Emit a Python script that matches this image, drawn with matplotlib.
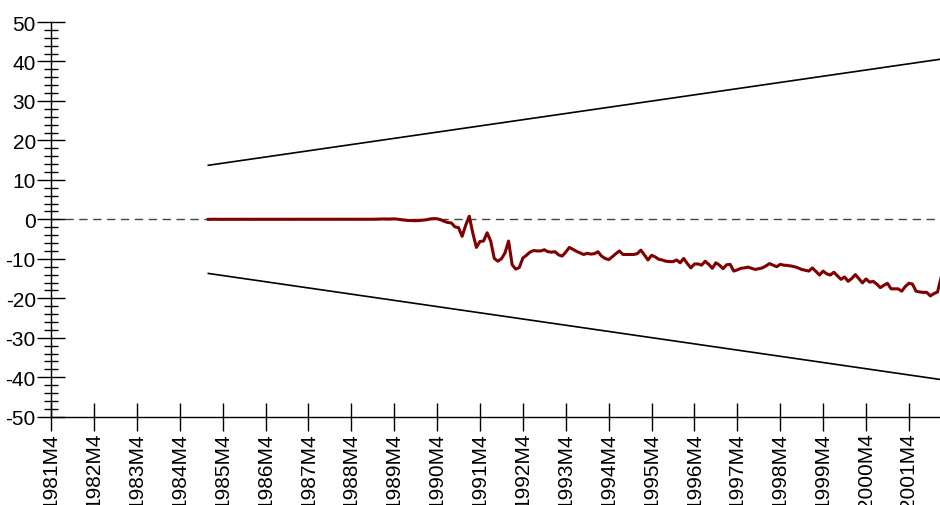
import matplotlib

matplotlib.use("Agg")
import matplotlib.pyplot as plt
import numpy as np
import pandas as pd

plt.rcParams["font.family"] = ["Liberation Sans", "DejaVu Sans"]

# CUSUM statistic, monthly, 1984M12 .. 2002M1
cusum = [
    0.0, 0.02, 0.03, 0.01, 0.02, 0.03, 0.02, 0.01, 0.02, 0.03,
    0.02, 0.02, 0.01, 0.02, 0.03, 0.02, 0.01, 0.0, 0.01, 0.02,
    0.03, 0.02, 0.01, 0.02, 0.02, 0.01, 0.0, 0.01, 0.02, 0.02,
    0.01, 0.02, 0.03, 0.02, 0.01, 0.0, 0.01, 0.02, 0.01, 0.0,
    0.01, 0.02, 0.03, 0.02, 0.01, 0.02, 0.03, 0.05, 0.08, 0.1,
    0.08, 0.1, 0.12, 0.05, -0.1, -0.2, -0.3, -0.3, -0.35, -0.3,
    -0.2, -0.1, 0.1, 0.2, 0.15, -0.1, -0.5, -0.8, -0.9, -1.9,
    -2.1, -4.3, -1.5, 0.8, -3.5, -7.1, -5.6, -5.5, -3.4, -5.5,
    -9.9, -10.6, -10.0, -8.5, -5.5, -11.5, -12.6, -12.2, -9.8, -9.1,
    -8.3, -7.9, -8.0, -8.0, -7.7, -8.2, -8.3, -8.2, -9.0, -9.3,
    -8.3, -7.1, -7.6, -8.1, -8.5, -8.9, -8.6, -8.8, -8.7, -8.2,
    -9.3, -9.9, -10.2, -9.5, -8.7, -8.0, -8.9, -8.9, -8.9, -8.9,
    -8.7, -7.8, -9.0, -10.3, -9.1, -9.5, -10.1, -10.3, -10.6, -10.7,
    -10.7, -10.3, -11.0, -9.9, -11.2, -12.3, -11.3, -11.3, -11.6, -10.6,
    -11.4, -12.4, -11.0, -11.6, -12.5, -11.5, -11.4, -13.1, -12.8, -12.4,
    -12.3, -12.1, -12.4, -12.7, -12.5, -12.3, -11.8, -11.2, -11.6, -12.0,
    -11.4, -11.6, -11.7, -11.8, -12.0, -12.3, -12.7, -12.9, -13.1, -12.3,
    -13.2, -14.1, -13.1, -13.8, -14.1, -13.4, -14.3, -15.2, -14.6, -15.7,
    -15.0, -14.0, -15.0, -16.1, -15.1, -15.9, -15.7, -16.4, -17.3, -16.7,
    -16.2, -17.6, -17.6, -17.6, -18.2, -17.0, -16.2, -16.4, -18.2, -18.4,
    -18.5, -18.5, -19.4, -18.8, -18.4, -14.8,
]
start_period = "1984-12"
axis_start = "1981-04"
upper_bound = [13.7, 40.6]
lower_bound = [-13.7, -40.6]
tick_years = list(range(1981, 2002))

origin = pd.Period(axis_start, freq="M")
periods = pd.period_range(start=start_period, periods=len(cusum), freq="M")
t = np.array([(p - origin).n for p in periods], dtype=float)
t_ends = [t[0], t[-1]]

fig = plt.figure(figsize=(9.4, 5.06), dpi=100)
ax = fig.add_axes([0.0543, 0.1745, 0.9457, 0.78])

ax.axhline(0, color="#444444", lw=1.0, ls=(0, (6, 4)), zorder=1)
ax.plot(t_ends, upper_bound, color="black", lw=1.2, zorder=2)
ax.plot(t_ends, lower_bound, color="black", lw=1.2, zorder=2)
ax.plot(t, cusum, color="#800000", lw=2.2, zorder=3)

ax.set_xlim(0, t[-1] - 0.3)
ax.set_ylim(-50, 50)

for side in ("top", "right"):
    ax.spines[side].set_visible(False)
for side in ("left", "bottom"):
    ax.spines[side].set_linewidth(1.0)

ax.set_yticks(np.arange(-50, 51, 10))
ax.set_yticks(np.arange(-50, 51, 2), minor=True)
ax.set_yticklabels([str(v) for v in range(-50, 51, 10)])

xt = [(pd.Period(f"{y}-04", freq="M") - origin).n for y in tick_years]
ax.set_xticks(xt)
ax.set_xticklabels([f"{y}M4" for y in tick_years], rotation=90, va="top")

ax.tick_params(axis="y", which="major", direction="inout", length=20,
               width=1.0, labelsize=15, pad=1)
ax.tick_params(axis="y", which="minor", direction="inout", length=10,
               width=1.0)
ax.tick_params(axis="x", which="major", direction="inout", length=20,
               width=1.0, labelsize=15, pad=1)

fig.savefig("out.png", dpi=100)
